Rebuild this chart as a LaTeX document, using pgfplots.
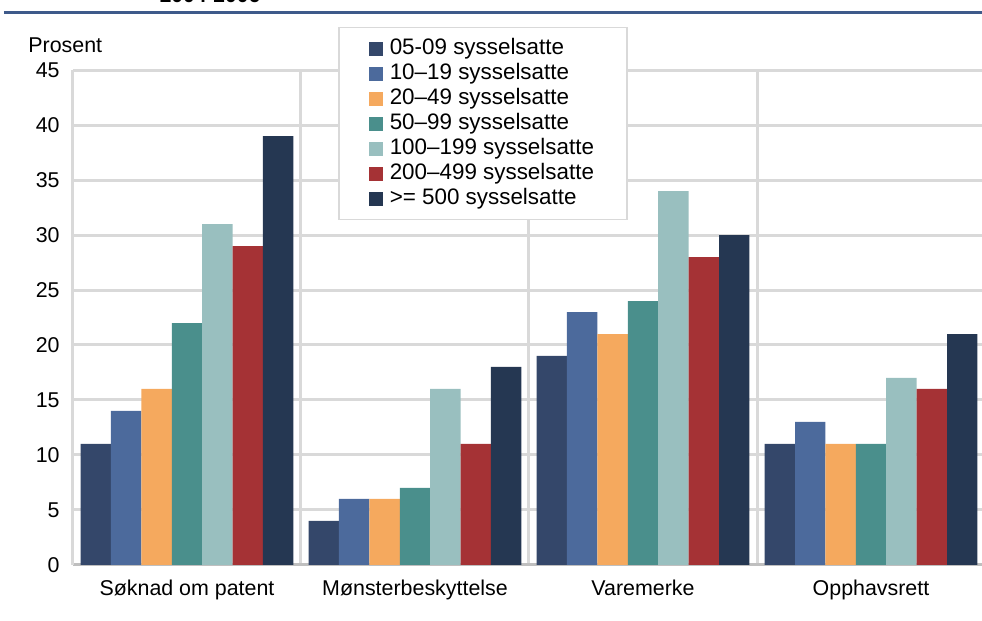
\documentclass[border=0pt]{standalone}
\usepackage{fontspec}
\setmainfont{Liberation Sans}
\usepackage{pgfplots}
\pgfplotsset{compat=1.18}

\definecolor{cA}{HTML}{34476A}
\definecolor{cB}{HTML}{4C6A9C}
\definecolor{cC}{HTML}{F5A95E}
\definecolor{cD}{HTML}{4A8F8C}
\definecolor{cE}{HTML}{99BFBF}
\definecolor{cF}{HTML}{A53235}
\definecolor{cG}{HTML}{253752}
\definecolor{gridgray}{HTML}{D9D9D9}
\definecolor{axisgray}{HTML}{BFBFBF}
\definecolor{titleblue}{HTML}{3E5A8A}

\begin{document}
\fontsize{10.5}{12.6}\selectfont
\begin{tikzpicture}
\begin{axis}[
    at={(0,0)}, anchor=south west,
    scale only axis, width=456pt, height=247.5pt,
    xmin=-0.5, xmax=3.5, ymin=0, ymax=45,
    ytick={0,5,...,45},
    xtick={0,1,2,3},
    xticklabels={Søknad om patent, Mønsterbeskyttelse, Varemerke, Opphavsrett},
    minor xtick={0.5,1.5,2.5},
    xminorgrids, ymajorgrids,
    major grid style={draw=gridgray, line width=1.5pt},
    minor grid style={draw=gridgray, line width=1.5pt},
    axis x line=bottom, axis y line=left,
    x axis line style={-, draw=axisgray, line width=1.5pt},
    y axis line style={-, draw=gridgray, line width=1.5pt},
    major tick length=0pt, minor tick length=0pt,
    tick style={draw=none},
    /pgf/number format/assume math mode=true,
    tick label style={font=\fontsize{10.7}{12.6}\selectfont},
    yticklabel style={xshift=-3pt},
    xticklabel style={yshift=-4pt},
    ybar=0pt, bar width=15.2pt,
    every axis plot/.append style={draw=none,
      legend image code/.code={\fill[##1] (0pt,-3.5pt) rectangle (7pt,3.5pt); \path (9pt,0pt);}},
    legend cell align=left,
    legend style={at={(0.2906,1.087)}, anchor=north west,
      draw=gridgray, line width=0.75pt, fill=white,
      font=\fontsize{11.2}{13}\selectfont,
      inner xsep=15pt, inner ysep=5.25pt,
      nodes={inner ysep=0pt, inner xsep=1.5pt, text height=8pt, text depth=2.5pt},
      row sep=2pt},
]
\addplot[fill=cA] coordinates {(0,11) (1,4) (2,19) (3,11)};
\addlegendentry{05-09 sysselsatte}
\addplot[fill=cB] coordinates {(0,14) (1,6) (2,23) (3,13)};
\addlegendentry{10–19 sysselsatte}
\addplot[fill=cC] coordinates {(0,16) (1,6) (2,21) (3,11)};
\addlegendentry{20–49 sysselsatte}
\addplot[fill=cD] coordinates {(0,22) (1,7) (2,24) (3,11)};
\addlegendentry{50–99 sysselsatte}
\addplot[fill=cE] coordinates {(0,31) (1,16) (2,34) (3,17)};
\addlegendentry{100–199 sysselsatte}
\addplot[fill=cF] coordinates {(0,29) (1,11) (2,28) (3,16)};
\addlegendentry{200–499 sysselsatte}
\addplot[fill=cG] coordinates {(0,39) (1,18) (2,30) (3,21)};
\addlegendentry{>= 500 sysselsatte}
\end{axis}
\node[anchor=base west, font=\fontsize{10.7}{12.6}\selectfont] at (-26pt,256pt) {Prosent};
\node[anchor=base, font=\fontsize{10.5}{12.6}\selectfont\bfseries] at (68.5pt,281pt) {2004-2006};
\draw[titleblue, line width=1.5pt] (-34.5pt,276pt) -- (460pt,276pt);
\pgfresetboundingbox
\useasboundingbox (-36.5pt,-28pt) rectangle (454.5pt,282.5pt);
\end{tikzpicture}
\end{document}
